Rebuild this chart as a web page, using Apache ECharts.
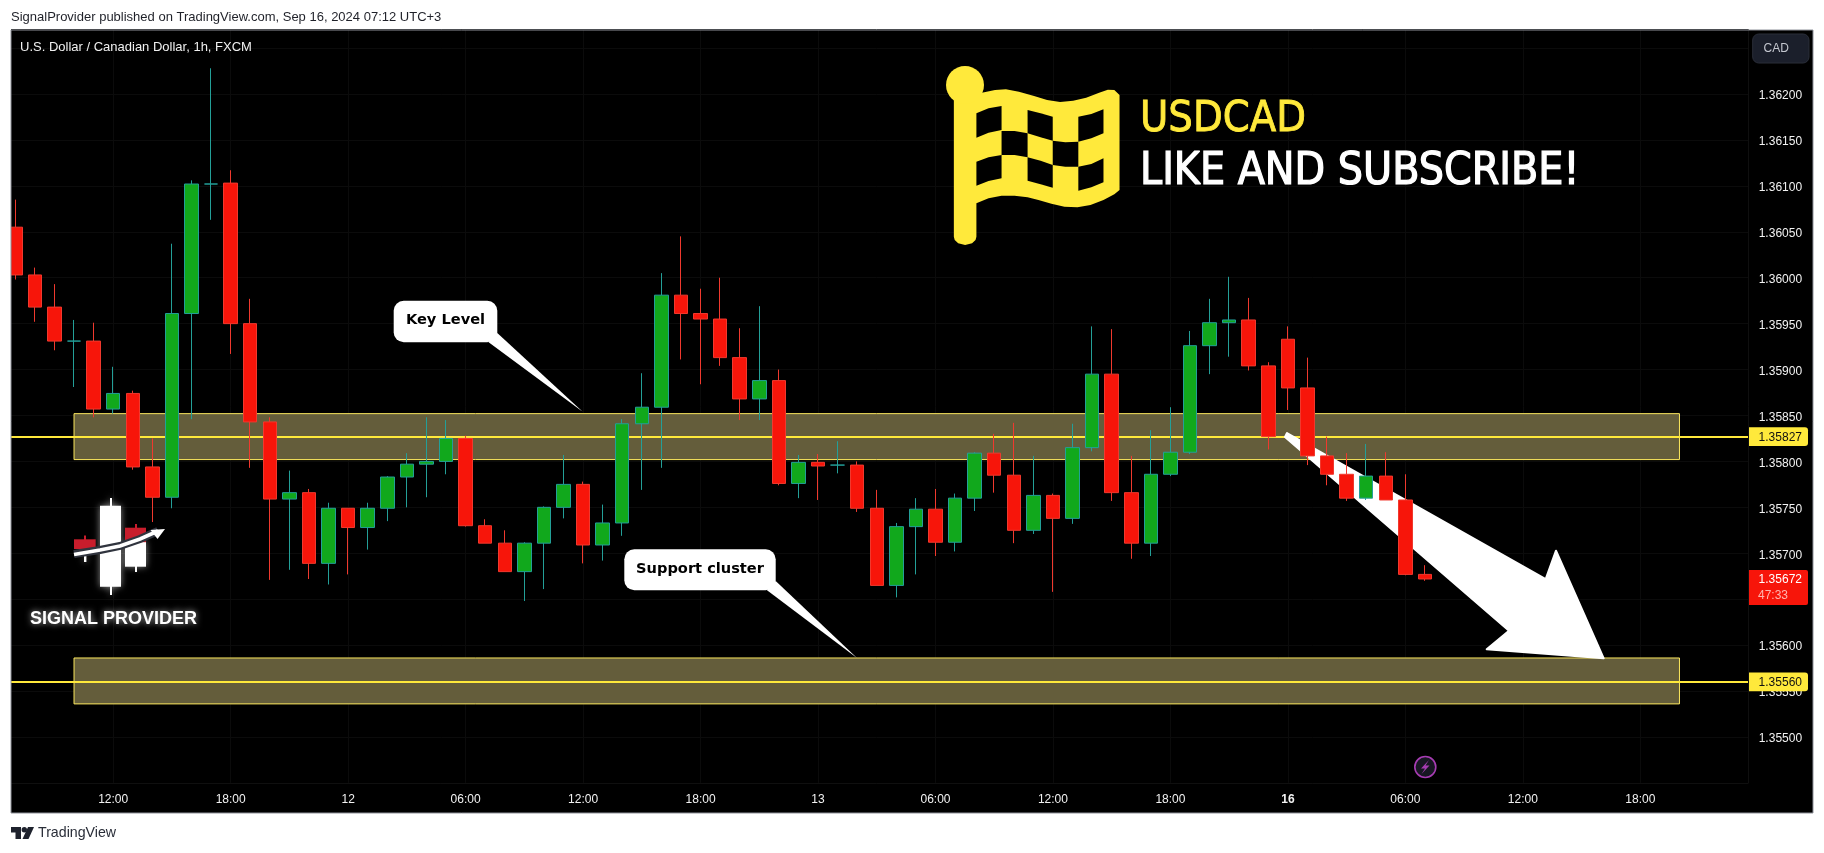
<!DOCTYPE html>
<html><head><meta charset="utf-8">
<style>html,body{margin:0;padding:0;background:#fff}#c{width:1824px;height:853px}</style>
<script src="https://cdn.jsdelivr.net/npm/echarts@6/dist/echarts.min.js"></script>
</head><body><div id="c"></div>
<script>
const categories = ["07:00","08:00","09:00","10:00","11:00","12:00","13:00","14:00","15:00","16:00","17:00","18:00","19:00","20:00","21:00","22:00","23:00","12","01:00","02:00","03:00","04:00","05:00","06:00","07:00","08:00","09:00","10:00","11:00","12:00","13:00","14:00","15:00","16:00","17:00","18:00","19:00","20:00","21:00","22:00","23:00","13","01:00","02:00","03:00","04:00","05:00","06:00","07:00","08:00","09:00","10:00","11:00","12:00","13:00","14:00","15:00","16:00","17:00","18:00","19:00","20:00","21:00","22:00","23:00","16","01:00","02:00","03:00","04:00","05:00","06:00","07:00","08:00","09:00","10:00","11:00","12:00","13:00","14:00","15:00","16:00","17:00","18:00","19:00","20:00","21:00","22:00","23:00"];
const opens = [1.36055,1.36003,1.35968,1.35931,1.35931,1.35857,1.35874,1.35794,1.35761,1.35961,1.36102,1.36103,1.3595,1.35843,1.35759,1.35766,1.35689,1.35749,1.35728,1.35749,1.35783,1.35797,1.358,1.35825,1.3573,1.35711,1.3568,1.35711,1.3575,1.35775,1.35709,1.35733,1.35841,1.35859,1.35981,1.35961,1.35955,1.35913,1.35868,1.35888,1.35776,1.35799,1.35796,1.35796,1.35749,1.35665,1.35729,1.35748,1.35712,1.3576,1.35809,1.35785,1.35725,1.35763,1.35738,1.35815,1.35895,1.35766,1.35711,1.35786,1.3581,1.35926,1.35951,1.35954,1.35904,1.35933,1.3588,1.35806,1.35786,1.3576,1.35784,1.35758,1.35677];
const closes = [1.36003,1.35968,1.35931,1.35931,1.35857,1.35874,1.35794,1.35761,1.35961,1.36102,1.36102,1.3595,1.35843,1.35759,1.35766,1.35689,1.35749,1.35728,1.35749,1.35783,1.35797,1.358,1.35825,1.3573,1.35711,1.3568,1.35711,1.3575,1.35775,1.35709,1.35733,1.35841,1.35859,1.35981,1.35961,1.35955,1.35913,1.35868,1.35888,1.35776,1.35799,1.35795,1.35796,1.35749,1.35665,1.35729,1.35748,1.35712,1.3576,1.35809,1.35785,1.35725,1.35763,1.35738,1.35815,1.35895,1.35766,1.35711,1.35786,1.3581,1.35926,1.35951,1.35954,1.35904,1.35827,1.3588,1.35806,1.35786,1.3576,1.35784,1.35758,1.35677,1.35672];
const lows = [1.35998,1.35952,1.35921,1.35881,1.35848,1.35852,1.35791,1.35734,1.35749,1.35846,1.36063,1.35917,1.35793,1.35671,1.35682,1.35672,1.35666,1.35677,1.35704,1.35735,1.3575,1.35761,1.35786,1.35729,1.35711,1.3568,1.35648,1.35661,1.35738,1.35689,1.35692,1.35719,1.35769,1.35793,1.35911,1.35884,1.35904,1.35845,1.35845,1.35774,1.3576,1.35758,1.35787,1.35745,1.35665,1.35652,1.35677,1.35697,1.35702,1.35746,1.35766,1.35711,1.35721,1.35658,1.35732,1.35811,1.35757,1.35694,1.35697,1.35784,1.35808,1.35895,1.35914,1.35899,1.35813,1.35856,1.35796,1.35774,1.35757,1.35758,1.35758,1.35676,1.3567];
const highs = [1.36085,1.36011,1.35993,1.35954,1.35951,1.35903,1.35877,1.35825,1.36037,1.36106,1.36228,1.36117,1.35977,1.35848,1.3579,1.3577,1.35755,1.35749,1.35755,1.35784,1.35809,1.35848,1.35845,1.35828,1.35737,1.35725,1.35712,1.35751,1.35807,1.35778,1.35753,1.35846,1.35896,1.36005,1.36045,1.35988,1.36,1.35945,1.35969,1.359,1.35807,1.35808,1.35822,1.358,1.35769,1.35733,1.3576,1.3577,1.35765,1.3581,1.3583,1.35842,1.35806,1.35765,1.35841,1.35947,1.35944,1.35806,1.35834,1.35859,1.35942,1.35977,1.36001,1.35978,1.35908,1.35947,1.35913,1.35827,1.35809,1.35819,1.3581,1.35786,1.35687];
const levelPrices = [1.35827, 1.3556];
const levelTexts = ["1.35827", "1.35560"];
const zoneTops = [1.35852, 1.35586];
const zoneBottoms = [1.35802, 1.35536];
const zoneFromIndex = 3, zoneToIndex = 85;
const lastPriceText = "1.35672", countdownText = "47:33";

const FONT = '"Liberation Sans", Arial, sans-serif';
const C = {red:'#f7150a', redEdge:'#f0392e', green:'#11a81c', teal:'#239f98', yellow:'#ffe93b', zone:'#645d3b', zoneEdge:'#fbe75e', grid:'#0b0b0b'};

const chart = echarts.init(document.getElementById('c'), null, {renderer:'canvas', width:1824, height:853});
const axisText = '#f2f2f2';

const flagPts = pts => pts.map(p => [930 + 0.4337*p[0], 50 + p[1]/3]);
const logoPoly = (pts, fill, z) => ({type:'polygon', z: z||60, silent:true, shape:{points:pts}, style:{fill}});
const flagOuter = [[107,132],[125,127],[150,120],[175,118],[205,125],[240,138],[270,150],[300,156],[330,152],[360,143],[390,128],[410,119],[425,120],[437,135],[437,420],[425,433],[400,450],[370,465],[340,472],[310,470],[280,461],[250,450],[225,442],[195,437],[165,437],[135,445],[107,460],[107,560],[105,570],[97,580],[81,585],[65,580],[57,570],[55,560],[55,150]];
const flagHoles = [
 [[107,190],[135,175],[165,168],[165,240],[135,248],[107,263]],
 [[225,180],[255,190],[283,200],[283,272],[255,262],[225,250]],
 [[342,200],[372,192],[400,178],[400,250],[372,265],[342,275]],
 [[165,243],[195,243],[225,250],[225,322],[195,315],[165,315]],
 [[283,272],[312,277],[342,275],[342,350],[312,350],[283,345]],
 [[107,335],[135,322],[165,315],[165,385],[135,393],[107,407]],
 [[225,322],[255,332],[283,345],[283,413],[255,403],[225,392]],
 [[342,350],[372,342],[400,325],[400,397],[372,412],[342,422]]
];
const txt = (x,y,text,font,fill,extra) => ({type:'text', x, y, z:(extra&&extra.z)||70, silent:true,
  style:Object.assign({text, font, fill, textAlign:'left', textVerticalAlign:'middle'}, extra||{})});
const glow = {shadowBlur:7, shadowColor:'rgba(255,255,255,0.55)'};

function tagGraphics(){
  const items = [];
  levelPrices.forEach((p,i)=>{
    const y = chart.convertToPixel({yAxisIndex:0}, p);
    items.push({type:'rect', z:75, silent:true, shape:{x:1749,y:y-9.3,width:59,height:18.6,r:[0,3,3,0]}, style:{fill:C.yellow}});
    items.push(txt(1758.6,y+1,levelTexts[i],'12px '+FONT,'#111',{z:76}));
  });
  const yl = chart.convertToPixel({yAxisIndex:0}, closes[closes.length-1]);
  items.push({type:'rect', z:75, silent:true, shape:{x:1749,y:yl-9,width:59,height:35,r:[0,2,2,0]}, style:{fill:C.red}});
  items.push(txt(1758.6,yl+1,lastPriceText,'12px '+FONT,'#fff',{z:76}));
  items.push(txt(1758,yl+17,countdownText,'12px '+FONT,'#ffb4ae',{z:76}));
  return items;
}

const baseGraphics = [
  {type:'rect', z:-10, silent:true, shape:{x:11,y:30,width:1802,height:783}, style:{fill:'#000'}},
  {type:'polygon', z:1.5, silent:true, shape:{points:[[1287,433],[1545.7,579],[1556,550.7],[1603.7,658.3],[1486.7,649.3],[1509,630.7],[1285,437]]}, style:{fill:'#fff', stroke:'#fff', lineWidth:2, lineJoin:'round'}},
  {type:'rect', z:80, silent:true, shape:{x:0,y:26,width:11,height:790}, style:{fill:'#fff'}},
  {type:'rect', z:81, silent:true, shape:{x:11,y:30,width:1802,height:783}, style:{fill:'none', stroke:'#8f929a', lineWidth:1}},
  txt(11,17,'SignalProvider published on TradingView.com, Sep 16, 2024 07:12 UTC+3','13px '+FONT,'#1f2129'),
  txt(20,47,'U.S. Dollar / Canadian Dollar, 1h, FXCM','13px '+FONT,'#f0f0f0'),
  txt(38,833.5,'TradingView','14.2px '+FONT,'#2a2e39'),
  logoPoly([[11,827],[21,827],[21,839],[15.5,839],[15.5,832.5],[11,832.5]],'#1e222d'),
  {type:'circle', z:60, silent:true, shape:{cx:24.3,cy:829.7,r:2.7}, style:{fill:'#1e222d'}},
  logoPoly([[34,827],[28.5,839],[22.5,839],[28,827]],'#1e222d'),
  {type:'rect', z:70, silent:true, shape:{x:1752.7,y:34,width:56.3,height:29,r:6}, style:{fill:'#1b1f2b', stroke:'#2a2e39', lineWidth:1}},
  txt(1763.5,49,'CAD','12px '+FONT,'#c4c7cf',{z:71}),
  logoPoly(flagPts(flagOuter),C.yellow),
  {type:'circle', z:60, silent:true, shape:{cx:965,cy:85,r:19}, style:{fill:C.yellow}},
  ...flagHoles.map(h=>logoPoly(flagPts(h),'#000',61)),
  txt(1140,119.5,'USDCAD','43px "DejaVu Sans Condensed", '+FONT,C.yellow,{stroke:C.yellow,lineWidth:0.8}),
  txt(1140,173,'LIKE AND SUBSCRIBE!','44.2px "DejaVu Sans Condensed", '+FONT,'#fff',{stroke:'#fff',lineWidth:1.2}),
  {type:'rect', z:70, silent:true, shape:{x:393.7,y:300.7,width:103.6,height:41.6,r:10}, style:{fill:'#fff'}},
  logoPoly([[488.3,342],[497.3,333],[582.7,411.7]],'#fff',70),
  txt(445.5,320.5,'Key Level','bold 14.6px "DejaVu Sans"','#000',{z:71,textAlign:'center'}),
  {type:'rect', z:70, silent:true, shape:{x:624.3,y:549.3,width:151.4,height:41,r:10}, style:{fill:'#fff'}},
  logoPoly([[766.7,590],[775.7,581],[857,658]],'#fff',70),
  txt(700,569,'Support cluster','bold 14.6px "DejaVu Sans"','#000',{z:71,textAlign:'center'}),
  {type:'rect', z:60, silent:true, shape:{x:110,y:498,width:2,height:97}, style:Object.assign({fill:'#fff'},glow)},
  {type:'rect', z:60, silent:true, shape:{x:100,y:505.7,width:21,height:81}, style:Object.assign({fill:'#fff'},glow)},
  {type:'rect', z:60, silent:true, shape:{x:135,y:566,width:2,height:6}, style:{fill:'#fff'}},
  {type:'rect', z:60, silent:true, shape:{x:125,y:541.7,width:21,height:25}, style:Object.assign({fill:'#fff'},glow)},
  {type:'rect', z:61, silent:true, shape:{x:135,y:524,width:2,height:5}, style:{fill:'#c81d2c'}},
  {type:'rect', z:61, silent:true, shape:{x:125,y:527.7,width:21,height:14.5}, style:{fill:'#c81d2c'}},
  {type:'rect', z:61, silent:true, shape:{x:84,y:535.5,width:2,height:5}, style:{fill:'#c81d2c'}},
  {type:'rect', z:61, silent:true, shape:{x:74,y:539.3,width:21.7,height:9.7}, style:{fill:'#c81d2c'}},
  {type:'rect', z:60, silent:true, shape:{x:84,y:555,width:2.4,height:7}, style:Object.assign({fill:'#fff'},glow)},
  {type:'polyline', z:62, silent:true, shape:{points:[[74,554],[100,550],[120,546],[140,539],[158,531]]}, style:{stroke:'#30343e', lineWidth:8, fill:'none'}},
  {type:'polyline', z:63, silent:true, shape:{points:[[74,554.5],[100,550],[120,546],[140,539],[158,531]]}, style:{stroke:'#fff', lineWidth:3.6, fill:'none'}},
  logoPoly([[165,529],[157.5,539],[150.5,530]],'#fff',63),
  txt(113.5,619.5,'SIGNAL PROVIDER','bold 18px '+FONT,'#fff',{z:64,textAlign:'center',textShadowBlur:6,textShadowColor:'rgba(255,255,255,0.7)',shadowBlur:6,shadowColor:'rgba(255,255,255,0.7)'}),
  {type:'circle', z:60, silent:true, shape:{cx:1425.3,cy:767,r:10.5}, style:{fill:'#171722', stroke:'#a63cb2', lineWidth:1.6}},
  logoPoly([[1429,760],[1421,768.5],[1425,768.5],[1421.5,774],[1429.5,765.5],[1425.5,765.5]],'#a63cb2',61)
];

const gridIdx = categories.map((c,i)=>i).filter(i=>i%6===5);

chart.setOption({
  animation:false,
  backgroundColor:'#fff',
  grid:{left:5.5, top:29.7, width:1742.5, height:753.2, show:false},
  xAxis:{type:'category', data:categories, boundaryGap:true,
    axisLine:{show:true, lineStyle:{color:'#0f0f0f'}}, axisTick:{show:false}, splitLine:{show:false},
    axisLabel:{interval:(i)=>i%6===5, margin:11, fontFamily:'Liberation Sans', fontSize:12, color:axisText, hideOverlap:false,
      formatter:(v)=> v==='16' ? '{b|16}' : v, rich:{b:{fontWeight:'bold', fontFamily:'Liberation Sans', fontSize:12, color:axisText}}}},
  yAxis:{type:'value', position:'right', min:1.3545, max:1.3627, interval:0.0005, scale:true,
    axisLine:{show:true, lineStyle:{color:'#0f0f0f'}}, axisTick:{show:false}, splitLine:{show:true, lineStyle:{color:C.grid, width:1}},
    axisLabel:{margin:10.7, fontFamily:'Liberation Sans', fontSize:12, color:axisText, showMinLabel:true, showMaxLabel:true, hideOverlap:false,
      formatter:(v)=> (v>1.35499 && v<1.36201) ? '{t|'+v.toFixed(5)+'}' : '',
      rich:{t:{fontFamily:'Liberation Sans', fontSize:12, color:axisText, padding:[4,0,0,0]}}}},
  series:[
    {type:'line', z:0, data:[], silent:true, symbol:'none',
      markLine:{silent:true, z:0.5, precision:5, symbol:'none', label:{show:false}, animation:false,
        lineStyle:{color:C.grid,width:1,type:'solid'},
        data:gridIdx.map(i=>({xAxis:i}))}},
    {type:'line', z:1, data:[], silent:true, symbol:'none',
      markArea:{silent:true, z:1, label:{show:false}, itemStyle:{color:C.zone, borderColor:C.zoneEdge, borderWidth:1},
        data: zoneTops.map((t,i)=>[{xAxis:zoneFromIndex,yAxis:t},{xAxis:zoneToIndex,yAxis:zoneBottoms[i]}])},
      markLine:{silent:true, z:1.2, precision:5, symbol:'none', label:{show:false}, animation:false,
        lineStyle:{color:C.yellow,width:2,type:'solid'},
        data:levelPrices.map(p=>({yAxis:p}))}},
    {type:'candlestick', z:2, silent:true, barWidth:14,
      data: opens.map((o,i)=>[o,closes[i],lows[i],highs[i]]),
      itemStyle:{color:C.green, color0:C.red, borderColor:C.teal, borderColor0:C.redEdge, borderColorDoji:C.teal, borderWidth:1}}
  ]
});
chart.setOption({graphic:{elements:[...baseGraphics, ...tagGraphics()]}});
</script></body></html>
